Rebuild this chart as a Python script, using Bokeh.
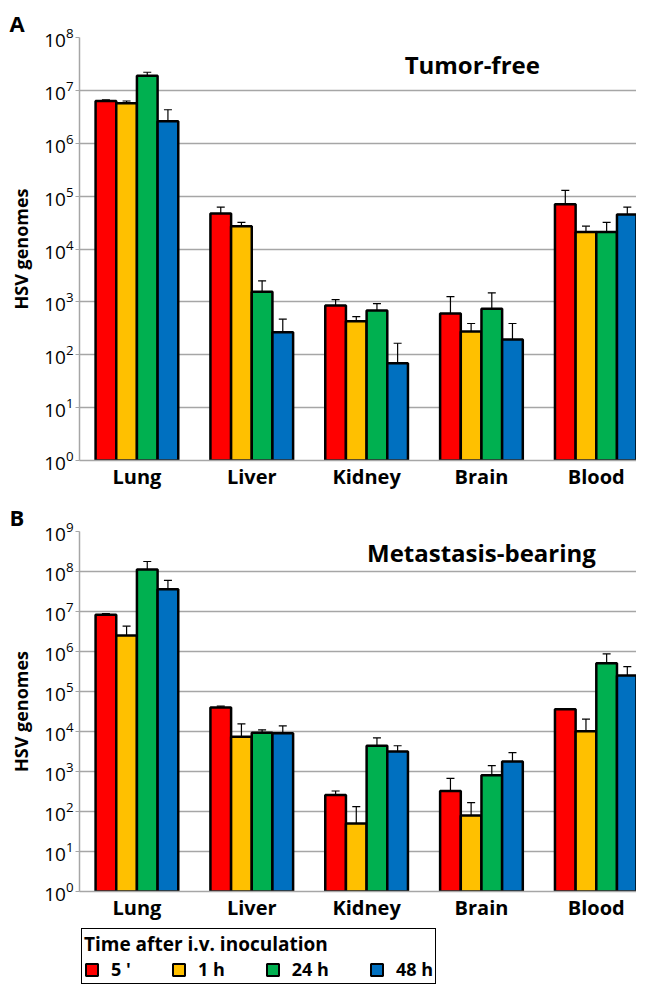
from bokeh.plotting import figure
from bokeh.models import (ColumnDataSource, Whisker, TeeHead, Label, Legend, LegendItem,
                          FixedTicker, Range1d, LogTickFormatter)
from bokeh.layouts import column
from bokeh.embed import file_html
from bokeh.resources import INLINE

organs = ["Lung", "Liver", "Kidney", "Brain", "Blood"]
times = ["5 '", "1 h", "24 h", "48 h"]
colors = ["#FF0000", "#FFC000", "#00B050", "#0070C0"]

# Panel A: tumor-free (mean, SD)
a_5m = [6.3e6, 4.7e4, 850, 600, 7.0e4]
a_1h = [5.7e6, 2.7e4, 430, 275, 2.1e4]
a_24h = [1.9e7, 1.56e3, 690, 740, 2.1e4]
a_48h = [2.6e6, 265, 69, 195, 4.5e4]
a_sd_5m = [3e5, 1.5e4, 250, 660, 5.9e4]
a_sd_1h = [6e5, 5e3, 95, 115, 6e3]
a_sd_24h = [3e6, 9.4e2, 240, 740, 1.1e4]
a_sd_48h = [1.7e6, 205, 96, 195, 1.7e4]

# Panel B: metastasis-bearing (mean, SD)
b_5m = [8.3e6, 4.0e4, 260, 325, 3.6e4]
b_1h = [2.5e6, 7.4e3, 50, 80, 1.02e4]
b_24h = [1.13e8, 9.3e3, 4400, 810, 5.1e5]
b_48h = [3.6e7, 9.1e3, 3150, 1780, 2.5e5]
b_sd_5m = [6e5, 3e3, 65, 350, 1e3]
b_sd_1h = [1.8e6, 8.1e3, 82, 86, 1.03e4]
b_sd_24h = [6.5e7, 1.7e3, 2.5e3, 600, 3.6e5]
b_sd_48h = [2.4e7, 4.7e3, 1.25e3, 1.17e3, 1.7e5]

FONT = "Open Sans"
GRID = "#a6a6a6"
BAR_W = 0.18


def make_panel(series, sds, ymax_exp, title, title_xy, letter, frame_h, top, bottom):
    p = figure(frame_width=557, frame_height=frame_h, x_range=Range1d(0, 4.85),
               y_range=Range1d(1, 10.0 ** ymax_exp), y_axis_type="log",
               output_backend="svg", toolbar_location=None,
               min_border_left=79, min_border_right=0, min_border_top=top,
               min_border_bottom=bottom)
    p.outline_line_color = None
    p.xgrid.grid_line_color = None
    p.ygrid.grid_line_color = GRID
    p.ygrid.grid_line_width = 1.5

    yax = p.yaxis[0]
    yax.ticker = FixedTicker(ticks=[10.0 ** k for k in range(ymax_exp + 1)])
    yax.formatter = LogTickFormatter()
    yax.minor_tick_line_color = None
    yax.major_tick_out = 4
    yax.major_tick_in = 0
    yax.major_tick_line_color = GRID
    yax.axis_line_color = GRID
    yax.axis_line_width = 1.5
    yax.major_label_text_font = FONT
    yax.major_label_text_font_size = "19px"
    yax.major_label_text_color = "black"
    yax.major_label_standoff = 2
    yax.axis_label = "HSV genomes"
    yax.axis_label_text_font = FONT
    yax.axis_label_text_font_style = "bold"
    yax.axis_label_text_font_size = "18px"
    yax.axis_label_text_color = "black"
    yax.axis_label_standoff = 8

    xax = p.xaxis[0]
    xax.ticker = FixedTicker(ticks=[i + 0.5 for i in range(len(organs))])
    xax.major_label_overrides = {i + 0.5: o for i, o in enumerate(organs)}
    xax.major_tick_line_color = None
    xax.major_tick_out = 0
    xax.major_tick_in = 0
    xax.minor_tick_line_color = None
    xax.minor_tick_out = 0
    xax.axis_line_color = GRID
    xax.axis_line_width = 1.5
    xax.axis_label_standoff = 0
    xax.major_label_text_font = FONT
    xax.major_label_text_font_style = "bold"
    xax.major_label_text_font_size = "20px"
    xax.major_label_text_color = "black"
    xax.major_label_standoff = 2

    for j, (vals, sd) in enumerate(zip(series, sds)):
        xs = [i + 0.5 + (j - 1.5) * BAR_W for i in range(len(organs))]
        src = ColumnDataSource(dict(x=xs, top=vals, upper=[v + s for v, s in zip(vals, sd)]))
        p.vbar(x="x", top="top", bottom=1, width=BAR_W, source=src,
               fill_color=colors[j], line_color="black", line_width=2.5)
        w = Whisker(source=src, base="x", lower="top", upper="upper",
                    line_color="black", line_width=1.2,
                    upper_head=TeeHead(size=8, line_color="black", line_width=1.2),
                    lower_head=None, level="overlay")
        p.add_layout(w)

    p.add_layout(Label(x=title_xy[0], y=title_xy[1], text=title, text_font=FONT,
                       text_font_style="bold", text_font_size="24px", text_color="black",
                       text_align="center", text_baseline="middle"))

    p.title.text = letter
    p.title.text_font = FONT
    p.title.text_font_style = "bold"
    p.title.text_font_size = "22px"
    p.title.text_color = "black"
    p.title.align = "left"
    p.title.offset = -70
    p.title.standoff = 0
    return p


pa = make_panel([a_5m, a_1h, a_24h, a_48h], [a_sd_5m, a_sd_1h, a_sd_24h, a_sd_48h],
                8, "Tumor-free", (3.42, 10 ** 7.49), "A", 423, 37, 39)
pb = make_panel([b_5m, b_1h, b_24h, b_48h], [b_sd_5m, b_sd_1h, b_sd_24h, b_sd_48h],
                9, "Metastasis-bearing", (3.5, 10 ** 8.47), "B", 360, 28, 35)

# Legend panel: hidden proxy bars (same data as panel B) only supply legend swatches
pl = figure(width=636, height=60, x_range=Range1d(0, 1), y_range=Range1d(0, 1),
            output_backend="svg", toolbar_location=None,
            min_border_left=68, min_border_right=0, min_border_top=0, min_border_bottom=0)
pl.axis.visible = False
pl.grid.grid_line_color = None
pl.outline_line_color = None
proxies = []
for j, vals in enumerate([b_5m, b_1h, b_24h, b_48h]):
    r = pl.vbar(x=list(range(len(vals))), top=vals, width=0.1, fill_color=colors[j],
                line_color="black", line_width=2)
    r.visible = False
    proxies.append(r)
items = [LegendItem(label=t, renderers=[r]) for t, r in zip(times, proxies)]
lg = Legend(items=items, orientation="horizontal", location="top_left",
            title="Time after i.v. inoculation")
lg.title_text_font = FONT
lg.title_text_font_style = "bold"
lg.title_text_font_size = "19px"
lg.title_text_color = "black"
lg.title_standoff = 0
lg.label_text_font = FONT
lg.label_text_font_style = "bold"
lg.label_text_font_size = "18px"
lg.label_text_color = "black"
lg.glyph_width = 15
lg.glyph_height = 15
lg.label_standoff = 12
lg.spacing = 40
lg.padding = 2
lg.margin = 2
lg.inactive_fill_alpha = 0
lg.border_line_color = "black"
lg.border_line_width = 1.5
lg.border_line_alpha = 1
lg.background_fill_alpha = 1
pl.add_layout(lg)

layout = column(pa, pb, pl, spacing=0)
open("out.html", "w").write(file_html(layout, INLINE))
